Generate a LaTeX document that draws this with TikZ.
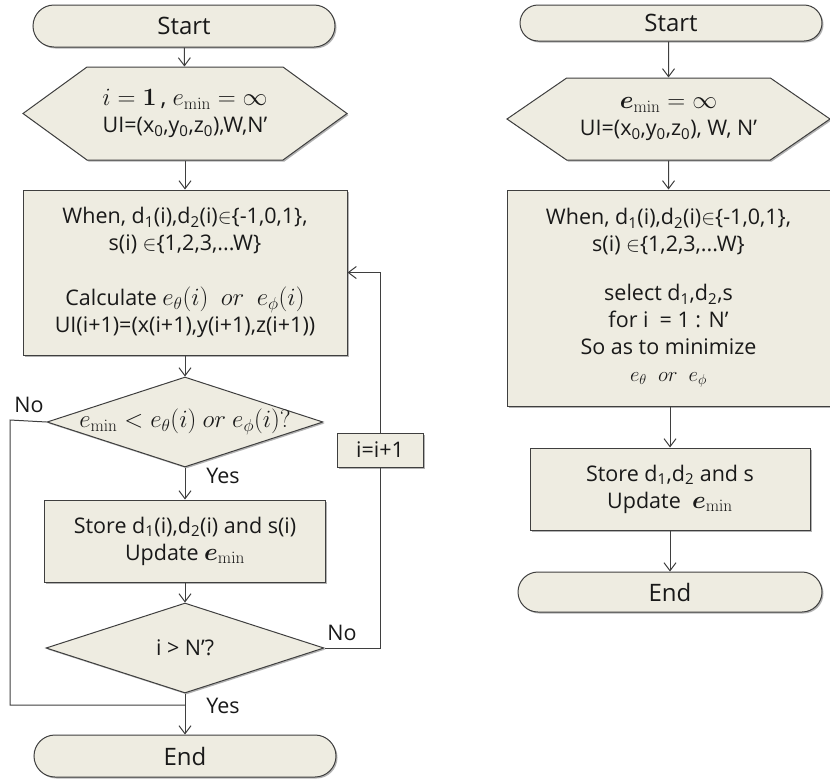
\documentclass[tikz,border=0pt]{standalone}
\usepackage{amsmath,bm}
\usepackage[no-math]{fontspec}
\setmainfont{Open Sans}
\usetikzlibrary{shapes.geometric,shapes.misc,shapes.symbols,shadows,arrows.meta}
\definecolor{shapefill}{HTML}{EEECE1}
\definecolor{shapeline}{HTML}{3F3F3F}
\newcommand{\sub}[1]{\textsubscript{#1}}
\newcommand{\emin}{\bm{e}_{\min}}
\newcommand{\bigmath}{\fontsize{24}{27}\selectfont}
\tikzset{
  >={Straight Barb[length=8pt,width=12pt]},
  flow/.style={draw=shapeline, fill=shapefill, line width=1pt, inner sep=0pt, align=center,
    text=black!90, font=\fontsize{21.5}{27}\selectfont,
    drop shadow={shadow xshift=1.5pt, shadow yshift=-1.5pt, fill=black, opacity=.3}},
  term/.style={flow, rounded rectangle, minimum width=302, minimum height=42,
    font=\fontsize{24}{27}\selectfont},
  hexa/.style={flow, signal, signal to=west and east},
  boxx/.style={flow, rectangle},
  dia/.style={flow, diamond},
  lbl/.style={font=\fontsize{21.5}{24}\selectfont, text=black!90},
  conn/.style={draw=shapeline, line width=1pt}
}
\begin{document}
\begin{tikzpicture}[x=1pt,y=-1pt]
  \useasboundingbox (0,0) rectangle (830,780);
  % left chart
  \node[term] (startL) at (184,26) {Start};
  \node[hexa, signal pointer angle=72, minimum width=324, minimum height=93] (hexL) at (185,113.5)
    {{\bigmath$i=\mathbf{1}$\,, $e_{\min}=\infty$}\\ UI=(x\sub{0},y\sub{0},z\sub{0}),W,N'};
  \node[boxx, minimum width=324, minimum height=165] (calc) at (185,272.5)
    {When, d\sub{1}(i),d\sub{2}(i)$\in$\{-1,0,1\},\\ s(i) $\in$\{1,2,3,...W\}\\[28pt]
     Calculate {\bigmath$e_\theta(i)\ \ or\ \ e_\phi(i)$}\\ UI(i+1)=(x(i+1),y(i+1),z(i+1))};
  \node[dia, minimum width=276, minimum height=90] (cmp) at (185,422)
    {\makebox[0pt]{\bigmath$e_{\min}<e_\theta(i)\ or\ e_\phi(i)?$}};
  \node[boxx, minimum width=281, minimum height=82] (storeL) at (185,541)
    {Store d\sub{1}(i),d\sub{2}(i) and s(i)\\ Update {\bigmath$\emin$}};
  \node[dia, minimum width=278, minimum height=90] (last) at (185,648) {\makebox[0pt]{i > N'?}};
  \node[term] (endL) at (185,756) {End};
  \node[boxx, minimum width=86, minimum height=34] (inc) at (380,450) {i=i+1};
  \coordinate (lft) at (10,420);
  \coordinate (jn) at (185,705);

  \draw[conn,->] (startL) -- (hexL);
  \draw[conn,->] (hexL) -- (calc);
  \draw[conn,->] (calc) -- (cmp);
  \draw[conn,->] (cmp) -- (storeL);
  \draw[conn,->] (storeL) -- (last);
  \draw[conn,->] (last) -- (endL);
  \draw[conn] (cmp.west) -- (lft) |- (jn);
  \draw[conn] (last.east) -| (inc.south);
  \draw[conn,->] (inc.north) |- (calc.east);

  \node[lbl] (noA) at (29,405) {No};
  \node[lbl] (yesA) at (223,476) {Yes};
  \node[lbl] (noB) at (342,633) {No};
  \node[lbl] (yesB) at (223,706) {Yes};

  % right chart
  \node[term, minimum height=36] (startR) at (671,23) {Start};
  \node[hexa, signal pointer angle=69, minimum width=323, minimum height=82] (hexR) at (668.5,119)
    {{\bigmath$\emin=\infty$}\\ UI=(x\sub{0},y\sub{0},z\sub{0}), W, N'};
  \node[boxx, minimum width=323, minimum height=216] (sel) at (668.5,298)
    {When, d\sub{1}(i),d\sub{2}(i)$\in$\{-1,0,1\},\\ s(i) $\in$\{1,2,3,...W\}\\[22pt]
     select d\sub{1},d\sub{2},s\\ for i \ = 1 : N'\\ So as to minimize\\ $e_\theta\ \ or\ \ e_\phi$};
  \node[boxx, minimum width=280, minimum height=82] (storeR) at (670,489)
    {Store d\sub{1},d\sub{2} and s\\ Update \ {\bigmath$\emin$}};
  \node[term, minimum width=304, minimum height=40] (endR) at (670,592) {End};

  \draw[conn,->] (startR.south -| hexR) -- (hexR);
  \draw[conn,->] (hexR) -- (sel);
  \draw[conn,->] (sel.south -| storeR) -- (storeR);
  \draw[conn,->] (storeR) -- (endR);
\end{tikzpicture}
\end{document}
